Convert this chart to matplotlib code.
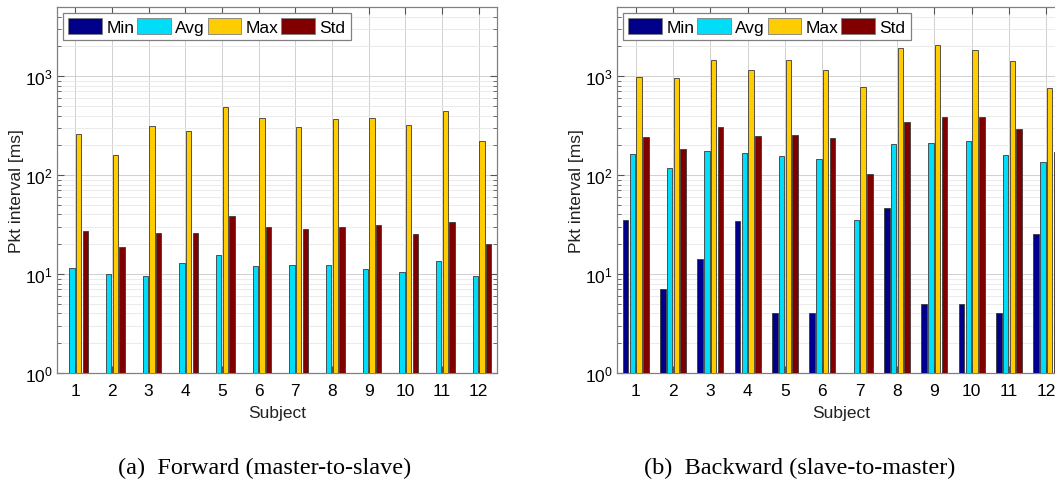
import numpy as np
import matplotlib
matplotlib.use("Agg")
import matplotlib.pyplot as plt
from matplotlib.ticker import LogLocator, NullFormatter

plt.rcParams['font.family'] = ['Liberation Sans', 'DejaVu Sans']
plt.rcParams['mathtext.default'] = 'regular'

subjects = np.arange(1, 13)
series_names = ["Min", "Avg", "Max", "Std"]
colors = ["#00008B", "#00DDF8", "#FFCC00", "#800000"]

# forward (master-to-slave), ms
fwd_min = [1, 1, 1, 1, 1, 1, 1, 1, 1, 1, 1, 1]
fwd_avg = [11.5, 10.0, 9.5, 12.9, 15.4, 12.0, 12.3, 12.4, 11.2, 10.6, 13.4, 9.6]
fwd_max = [262, 159, 310, 279, 492, 382, 308, 365, 379, 318, 446, 221]
fwd_std = [27.1, 18.9, 25.9, 26.1, 38.6, 30.0, 28.4, 29.6, 31.0, 25.3, 33.6, 20.1]

# backward (slave-to-master), ms
bwd_min = [35.4, 7.0, 14.2, 34.6, 4.0, 4.0, 1, 46.4, 5.0, 5.0, 4.0, 25.6]
bwd_avg = [164, 118.5, 175, 168, 156, 147, 34.9, 205, 211, 219, 159, 135]
bwd_max = [970, 948, 1447, 1158, 1459, 1149, 776, 1924, 2080, 1852, 1425, 752]
bwd_std = [243, 185, 305, 250, 252, 239, 103, 343, 385, 385, 292, 170]

captions = ["(a)  Forward (master-to-slave)", "(b)  Backward (slave-to-master)"]

fig = plt.figure(figsize=(10.55, 4.85), dpi=100)
ax1 = fig.add_axes([57/1055, 1 - 374/485, 440/1055, 366/485])
ax2 = fig.add_axes([617/1055, 1 - 374/485, 448/1055, 366/485])

slot = 0.8 / 4.4
width = slot * 0.8

def grafica(ax, datos):
    for i, vals in enumerate(datos):
        off = (i - 1.5) * slot
        ax.bar(subjects + off, np.array(vals) - 1, width, bottom=1,
               color=colors[i], edgecolor="#3a3a3a", linewidth=0.6,
               label=series_names[i], zorder=3)
    ax.set_yscale("log")
    ax.set_ylim(1, 5000)
    ax.set_xlim(0.5, 12.5)
    ax.set_xticks(subjects)
    ax.yaxis.set_major_locator(LogLocator(base=10, numticks=10))
    ax.yaxis.set_minor_locator(LogLocator(base=10, subs=np.arange(2, 10), numticks=20))
    ax.yaxis.set_minor_formatter(NullFormatter())
    ax.grid(True, which="major", color="#d0d0d0", linewidth=0.7, zorder=0)
    ax.grid(True, which="minor", axis="y", color="#e8e8e8", linewidth=0.6, zorder=0)
    ax.set_axisbelow(True)
    ax.tick_params(which="both", direction="in", top=True, right=True,
                   colors="#555555", labelcolor="black", labelsize=12.5)
    ax.tick_params(axis="x", pad=7)
    ax.tick_params(axis="y", pad=3)
    ax.tick_params(which="major", length=5, width=0.8)
    ax.tick_params(which="minor", length=3, width=0.6)
    for s in ax.spines.values():
        s.set_color("#808080")
        s.set_linewidth(0.9)
    ax.set_xlabel("Subject", fontsize=12.5, color="#222222", labelpad=5)
    ax.set_ylabel("Pkt interval [ms]", fontsize=12.5, color="#222222", labelpad=1)
    leg = ax.legend(loc="upper left", ncol=4, fontsize=12.5, frameon=True,
                    fancybox=False, edgecolor="#808080", framealpha=1,
                    handlelength=1.95, handleheight=1.0, handletextpad=0.25,
                    columnspacing=0.15, borderpad=0.3, borderaxespad=0.35)
    leg.get_frame().set_linewidth(0.9)
    for h in leg.legend_handles:
        h.set_edgecolor("#808080")

grafica(ax1, [fwd_min, fwd_avg, fwd_max, fwd_std])
grafica(ax2, [bwd_min, bwd_avg, bwd_max, bwd_std])

fig.text(265/1055, 1 - 468/485, captions[0], ha="center", va="center",
         fontsize=17.5, family="Liberation Serif")
fig.text(800/1055, 1 - 468/485, captions[1], ha="center", va="center",
         fontsize=17.5, family="Liberation Serif")

fig.savefig("out.png", dpi=100)
